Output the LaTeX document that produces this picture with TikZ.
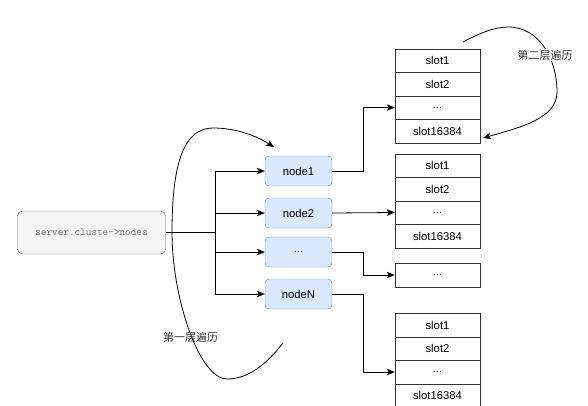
\documentclass[tikz,border=0pt]{standalone}
\usepackage{fontspec}
\setmainfont{Liberation Sans}
\newfontfamily\cnfont{Noto Sans CJK SC}
\usetikzlibrary{arrows.meta}
\definecolor{nodefill}{HTML}{DAE8FC}
\definecolor{nodeline}{HTML}{6C8EBF}
\definecolor{srcfill}{HTML}{F5F5F5}
\definecolor{srcline}{HTML}{666666}
\definecolor{srctext}{HTML}{7A7A7A}
\definecolor{slotline}{HTML}{333333}
\tikzset{
  srcbox/.style={draw=srcline, fill=srcfill, rounded corners=5pt, minimum width=148pt, minimum height=43pt, inner sep=0pt, font=\ttfamily\fontsize{10.7}{12}\selectfont, text=srctext},
  nodebox/.style={draw=nodeline, fill=nodefill, rounded corners=4pt, minimum width=67pt, minimum height=30pt, inner sep=0pt, font=\fontsize{11.3}{13}\selectfont},
  slotbox/.style={draw=slotline, fill=white, minimum width=85pt, minimum height=23.5pt, inner sep=0pt, font=\fontsize{11.3}{13}\selectfont},
  arr/.style={draw=black, line width=0.8pt, -{Stealth[length=8pt,width=6.5pt,inset=2pt]}},
  conn/.style={draw=black, line width=0.8pt},
  curvearr/.style={draw=black, line width=0.8pt, -{Stealth[length=8pt,width=6.5pt,inset=2pt]}},
  cnlabel/.style={font=\cnfont\fontsize{11}{13}\selectfont, text=black!80, inner sep=1pt}
}
\begin{document}
\begin{tikzpicture}[x=1pt,y=-1pt]
\useasboundingbox (0,0) rectangle (588,405);

% source
\node[srcbox] (src) at (91.5,232.5) {server.cluste->nodes};

% nodes
\node[nodebox] (n1) at (298.5,171) {node1};
\node[nodebox] (n2) at (298.5,213) {node2};
\node[nodebox] (n3) at (298.5,252) {...};
\node[nodebox] (n4) at (298.5,294) {nodeN};

% slot stack 1
\node[slotbox] (s11) at (437.5,60.5) {slot1};
\node[slotbox] (s12) at (437.5,84) {slot2};
\node[slotbox] (s13) at (437.5,107.5) {...};
\node[slotbox] (s14) at (437.5,131) {slot16384};

% slot stack 2
\node[slotbox] (s21) at (437.5,165.5) {slot1};
\node[slotbox] (s22) at (437.5,189) {slot2};
\node[slotbox] (s23) at (437.5,212.5) {...};
\node[slotbox] (s24) at (437.5,236) {slot16384};

% single box
\node[slotbox, minimum height=24pt] (s31) at (437.5,275) {...};

% slot stack 4
\node[slotbox] (s41) at (437.5,325) {slot1};
\node[slotbox] (s42) at (437.5,348.5) {slot2};
\node[slotbox] (s43) at (437.5,372) {...};
\node[slotbox] (s44) at (437.5,395.5) {slot16384};

% trunk
\coordinate (jn) at (215,232.5);
\draw[conn] (src.east) -- (jn);
\draw[arr] (jn) |- (n1.west);
\draw[arr] (jn) |- (n2.west);
\draw[arr] (jn) |- (n3.west);
\draw[arr] (jn) |- (n4.west);

% node to slots
\draw[arr] (n1.east) -- ++(31,0) |- (s13.west);
\draw[arr] (n2.east) -- (s23.west);
\draw[arr] (n3.east) -- ++(31,0) |- (s31.west);
\draw[arr] (n4.east) -- ++(31,0) |- (s43.west);

% first-layer traversal curve
\coordinate (c1s) at (283,343);
\coordinate (c1e) at (274,147);
\draw[curvearr] (c1s) .. controls (265,366) and (247,379) .. (227,379)
  .. controls (200,379) and (172,300) .. (172,232)
  .. controls (172,160) and (185,128) .. (213,128)
  .. controls (238,128) and (258,137) .. (c1e);
\node[cnlabel] (l1) at (190.5,337) {第一层遍历};

% second-layer traversal curve
\coordinate (c2s) at (463,42);
\coordinate (c2e) at (483,138);
\draw[curvearr] (c2s) .. controls (478,34) and (494,27) .. (508,27)
  .. controls (540,27) and (557,60) .. (557,92)
  .. controls (557,118) and (522,127) .. (c2e);
\node[cnlabel, fill=white] (l2) at (545,55) {第二层遍历};
\end{tikzpicture}
\end{document}
